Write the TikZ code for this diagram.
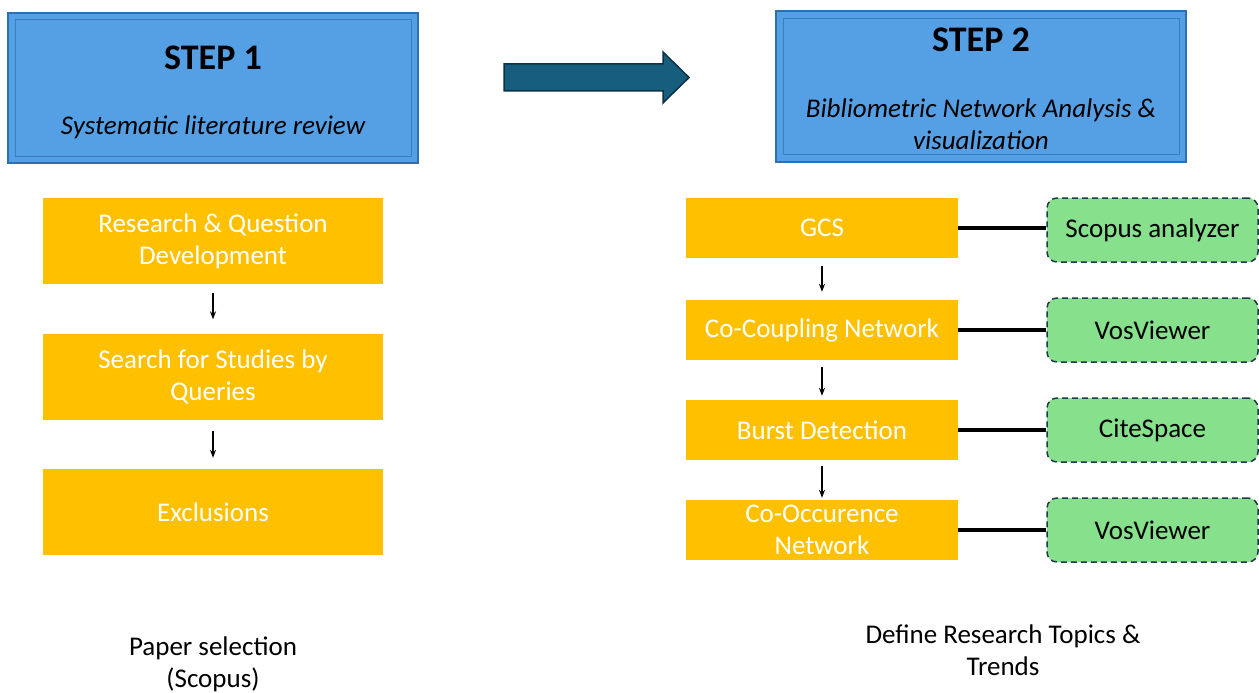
\documentclass[tikz,border=0pt]{standalone}
\usepackage{fontspec}
\setmainfont{Carlito}
\usetikzlibrary{arrows.meta}
\definecolor{stepblue}{HTML}{559FE4}
\definecolor{stepdark}{HTML}{2F6FAE}
\definecolor{boxyellow}{HTML}{FFC000}
\definecolor{toolgreen}{HTML}{86E08C}
\definecolor{tooldark}{HTML}{1E3A46}
\definecolor{arrowblue}{HTML}{175E7E}
\definecolor{arrowdark}{HTML}{0C3345}
\begin{document}
\begin{tikzpicture}[x=1pt, y=-1pt,
  font=\fontsize{27}{32}\selectfont,
  stepbox/.style={fill=stepblue, draw=stepdark, line width=2pt, minimum width=410pt, minimum height=150pt, inner sep=0pt},
  phase/.style={fill=boxyellow, text=white, align=center, inner sep=0pt},
  tool/.style={fill=toolgreen, draw=tooldark, dashed, dash pattern=on 6pt off 4pt, line width=1.5pt, rounded corners=10pt, minimum width=211pt, minimum height=64pt, inner sep=0pt},
  flow/.style={-{Stealth[length=8pt,width=6pt]}, line width=1.2pt},
  link/.style={line width=4pt}]
\useasboundingbox (0,0) rectangle (1259,693);
\node[stepbox] (S_1) at (213,88) {};
\draw[stepdark!70!stepblue, line width=1pt] ([shift={(8pt,-8pt)}]S_1.north west) rectangle ([shift={(-8pt,8pt)}]S_1.south east);
\node[font=\fontsize{36}{40}\selectfont\bfseries] (S_1_t) at (213,58) {STEP 1};
\node[font=\fontsize{27}{32}\selectfont\itshape] (S_1_s) at (213,127) {Systematic literature review};
\node[stepbox] (S_2) at (981,86.5) {};
\draw[stepdark!70!stepblue, line width=1pt] ([shift={(8pt,-8pt)}]S_2.north west) rectangle ([shift={(-8pt,8pt)}]S_2.south east);
\node[font=\fontsize{36}{40}\selectfont\bfseries] (S_2_t) at (981,40) {STEP 2};
\node[font=\fontsize{27}{32}\selectfont\itshape, align=center] (S_2_s) at (981,124) {Bibliometric Network Analysis \&\\visualization};
\draw[fill=arrowblue, draw=arrowdark, line width=1.5pt] (504,64) -- (663,64) -- (663,52) -- (689,77.5) -- (663,103) -- (663,91) -- (504,91) -- cycle;
\node[phase, minimum width=340pt, minimum height=86pt] (L_1) at (213,241) {Research \& Question\\Development};
\node[phase, minimum width=340pt, minimum height=86pt] (L_2) at (213,376.5) {Search for Studies by\\Queries};
\node[phase, minimum width=340pt, minimum height=86pt] (L_3) at (213,512) {Exclusions};
\draw[flow] ([yshift=-9pt]L_1.south) -- ([yshift=14pt]L_2.north);
\draw[flow] ([yshift=-11pt]L_2.south) -- ([yshift=11pt]L_3.north);
\node[phase, minimum width=272pt, minimum height=60pt] (R_1) at (822,228) {GCS};
\node[phase, minimum width=272pt, minimum height=60pt] (R_2) at (822,330) {Co-Coupling Network};
\node[phase, minimum width=272pt, minimum height=60pt] (R_3) at (822,430) {Burst Detection};
\node[phase, minimum width=272pt, minimum height=60pt] (R_4) at (822,530) {Co-Occurence\\Network};
\draw[flow] ([yshift=-8pt]R_1.south) -- ([yshift=8pt]R_2.north);
\draw[flow] ([yshift=-7pt]R_2.south) -- ([yshift=4pt]R_3.north);
\draw[flow] ([yshift=-6pt]R_3.south) -- ([yshift=2pt]R_4.north);
\node[tool] (T_1) at (1152.5,230) {Scopus analyzer};
\node[tool] (T_2) at (1152.5,330) {VosViewer};
\node[tool] (T_3) at (1152.5,430) {CiteSpace};
\node[tool] (T_4) at (1152.5,530) {VosViewer};
\draw[link] (R_1.east) -- (T_1.west |- R_1.east);
\draw[link] (R_2.east) -- (T_2.west);
\draw[link] (R_3.east) -- (T_3.west);
\draw[link] (R_4.east) -- (T_4.west);
\node[align=center] (C_1) at (213,664) {Paper selection\\(Scopus)};
\node[align=center] (C_2) at (1003,650) {Define Research Topics \&\\Trends};
\end{tikzpicture}
\end{document}
